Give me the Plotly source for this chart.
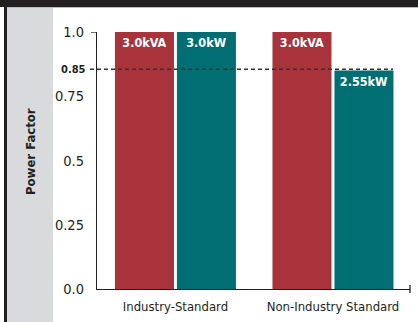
import plotly.graph_objects as go

categories = ["Industry-Standard", "Non-Industry Standard"]
apparent_pf = [1.0, 1.0]
real_pf = [1.0, 0.85]
apparent_labels = ["3.0kVA", "3.0kVA"]
real_labels = ["3.0kW", "2.55kW"]
ytick_vals = [0.0, 0.25, 0.5, 0.75, 1.0]
ytick_text = ["0.0", "0.25", "0.5", "0.75", "1.0"]
ref_pf = 0.85

RED = "#A8333A"
TEAL = "#006E73"
DARK = "#231F20"
FONT = "Liberation Sans Narrow, DejaVu Sans Condensed, Arial Narrow, sans-serif"

W, H = 418, 322
L, R, T, B = 97, 8, 32, 33
pw = W - L - R

def px(x):
    return (x - L) / pw

fig = go.Figure()
fig.add_trace(go.Bar(x=categories, y=apparent_pf, marker=dict(color=RED, line=dict(width=0)),
                     text=apparent_labels, textposition="inside", insidetextanchor="end",
                     textangle=0, textfont=dict(family=FONT, size=12.5, color="white", weight="bold"),
                     hoverinfo="skip"))
fig.add_trace(go.Bar(x=categories, y=real_pf, marker=dict(color=TEAL, line=dict(width=0)),
                     text=real_labels, textposition="inside", insidetextanchor="end",
                     textangle=0, textfont=dict(family=FONT, size=12.5, color="white", weight="bold"),
                     hoverinfo="skip"))

shapes = [
    dict(type="rect", xref="paper", yref="paper", x0=px(7), x1=px(53), y0=-1, y1=2,
         fillcolor="#D9DADB", line=dict(width=0), layer="below"),
    dict(type="rect", xref="paper", yref="paper", x0=px(4), x1=px(7), y0=-1, y1=2,
         fillcolor=DARK, line=dict(width=0), layer="below"),
    dict(type="rect", xref="paper", yref="paper", x0=px(-5), x1=px(430),
         y0=(H - B - 7) / (H - T - B), y1=2, fillcolor=DARK, line=dict(width=0), layer="above"),
    dict(type="line", xref="paper", yref="paper", x0=px(7), x1=px(430),
         y0=(H - B - 7.5) / (H - T - B), y1=(H - B - 7.5) / (H - T - B),
         line=dict(color="#BBBBBB", width=1), layer="above"),
    dict(type="line", xref="paper", yref="y", x0=px(91), x1=px(97), y0=1.0, y1=1.0,
         line=dict(color=DARK, width=1.3), layer="above"),
    dict(type="line", xref="paper", yref="paper", x0=1, x1=1, y0=-4 / (H - T - B), y1=4 / (H - T - B),
         line=dict(color=DARK, width=1.3), layer="above"),
    dict(type="line", xref="paper", yref="y", x0=px(90), x1=px(393), y0=ref_pf + 0.005, y1=ref_pf + 0.005,
         line=dict(color="#333333", width=1.3, dash="4px,3px"), layer="above"),
]

annotations = [
    dict(text="<b>Power Factor</b>", xref="paper", yref="paper", x=px(30), y=(H - B - 152) / (H - T - B),
         xanchor="center", yanchor="middle", textangle=-90, showarrow=False,
         font=dict(family=FONT, size=13, color=DARK)),
    dict(text="<b>0.85</b>", xref="paper", yref="y", x=px(88), y=ref_pf + 0.006,
         xanchor="right", yanchor="middle", showarrow=False,
         font=dict(family=FONT, size=11, color=DARK)),
]

fig.update_layout(
    width=W, height=H,
    margin=dict(l=L, r=R, t=T, b=B),
    paper_bgcolor="white", plot_bgcolor="white",
    barmode="group", bargap=0.213, bargroupgap=0.048,
    showlegend=False,
    shapes=shapes, annotations=annotations,
    font=dict(family=FONT, color=DARK),
    xaxis=dict(range=[-0.498, 1.489], showline=True, linecolor=DARK, linewidth=1.3,
               ticks="", showgrid=False, zeroline=False, fixedrange=True,
               tickfont=dict(family=FONT, size=13, color=DARK), ticklabelstandoff=5),
    yaxis=dict(range=[0, 1.0], showline=True, linecolor=DARK, linewidth=1.3,
               tickvals=ytick_vals, ticktext=ytick_text, ticks="", showgrid=False,
               zeroline=False, fixedrange=True,
               tickfont=dict(family=FONT, size=14.5, color=DARK), ticklabelstandoff=9),
)

fig.write_html("out.html", config={"displayModeBar": False})
